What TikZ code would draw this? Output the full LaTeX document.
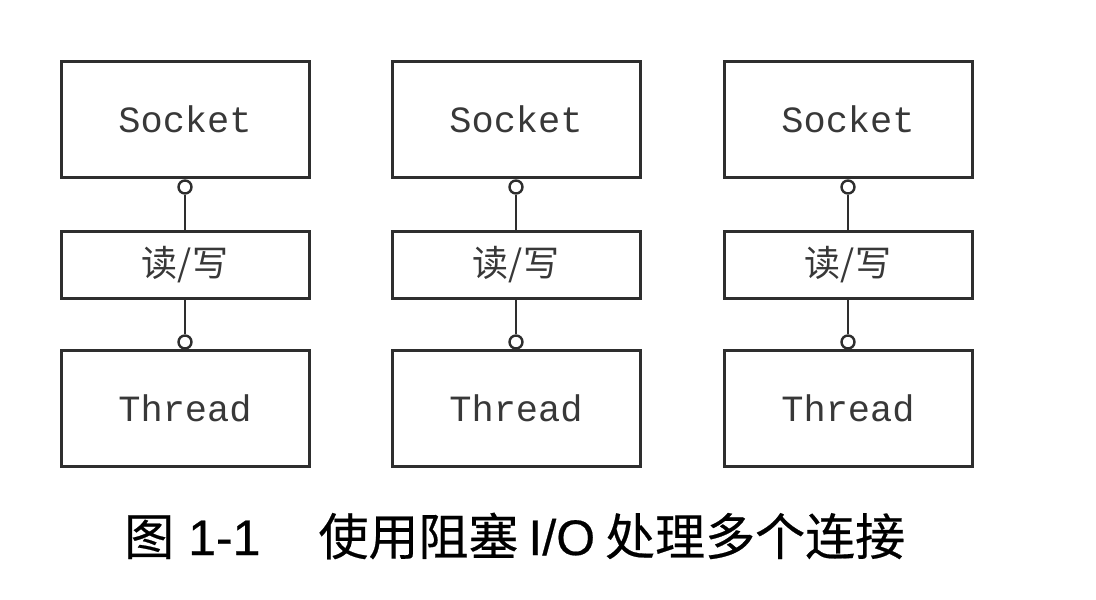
\documentclass[tikz,border=0pt]{standalone}
\usepackage{fontspec}
\setmainfont{Liberation Sans}
\newfontfamily\cjk{Noto Sans CJK SC}
\newfontfamily\cjkcap[FakeBold=0.4]{Noto Sans CJK SC}
\newfontfamily\latcap[FakeBold=0.4]{Liberation Sans}
\newfontfamily\monof{Liberation Mono}
\begin{document}
\begin{tikzpicture}[x=1pt,y=-1pt,
  box/.style={draw=black!82, line width=3pt, rectangle, minimum width=248pt, inner sep=0pt, text=black!78},
  bigbox/.style={box, minimum height=116pt, font=\monof\fontsize{37}{37}\selectfont},
  rwbox/.style={box, minimum height=67pt, font=\cjk\fontsize{36}{36}\selectfont},
  pin/.style={draw=black!82, line width=2.4pt, circle, fill=white, minimum size=13pt, inner sep=0pt},
  link/.style={draw=black!82, line width=2.8pt}]
\path[use as bounding box] (0,0) rectangle (1096,600);
\foreach \i/\cx in {1/185, 2/516, 3/848}{
  \node[bigbox] (s\i) at (\cx,119) {Socket};
  \node[rwbox] (rw\i) at (\cx,264.5) {读/写};
  \node[bigbox] (t\i) at (\cx,408.5) {Thread};
  \node[pin] (a\i) at (\cx,187) {};
  \node[pin] (b\i) at (\cx,342) {};
  \draw[link] (a\i) -- (rw\i.north);
  \draw[link] (rw\i.south) -- (b\i);
}
\node[font=\fontsize{50}{50}\selectfont, anchor=west, inner sep=0pt] (cap) at (124,536)
  {{\cjkcap 图}\hspace{14pt}{\latcap 1-1}\hspace{58pt}{\cjkcap 使用阻塞}\hspace{10pt}{\latcap I/O}\hspace{10pt}{\cjkcap 处理多个连接}};
\end{tikzpicture}
\end{document}
